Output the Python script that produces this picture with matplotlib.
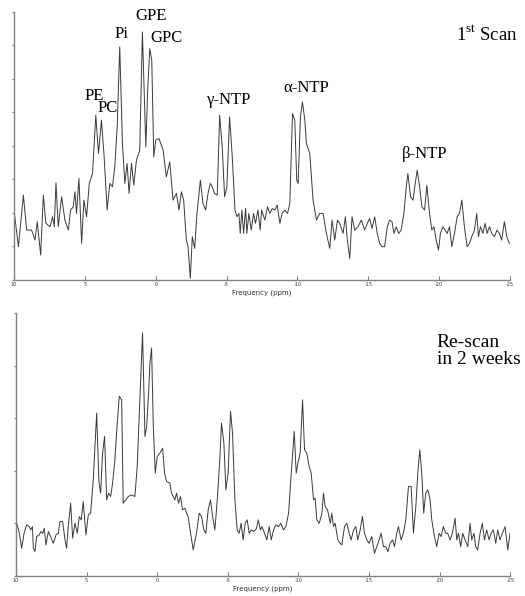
"""
31P MRS spectra: first scan vs re-scan two weeks later.
"""

import matplotlib

matplotlib.use("Agg")
import matplotlib.pyplot as plt
import numpy as np

# first scan: chemical shift (ppm) and intensity (a.u.)
SCAN1_PPM = [
    10.00, 9.69, 9.34, 9.11, 8.76, 8.52, 8.36, 8.12, 7.93, 7.75, 7.46, 7.28, 7.16, 7.04,
    6.88, 6.64, 6.41, 6.17, 6.01, 5.82, 5.70, 5.59, 5.42, 5.23, 5.07, 4.88, 4.69, 4.46,
    4.23, 4.04, 3.83, 3.64, 3.43, 3.24, 3.05, 2.89, 2.72, 2.54, 2.35, 2.18, 2.02, 1.88,
    1.71, 1.55, 1.36, 1.13, 0.94, 0.70, 0.56, 0.42, 0.28, 0.14, 0.00, -0.23, -0.52,
    -0.75, -0.99, -1.22, -1.46, -1.64, -1.81, -1.97, -2.16, -2.28, -2.44, -2.58, -2.75,
    -2.91, -3.15, -3.33, -3.52, -3.69, -3.85, -3.99, -4.15, -4.34, -4.51, -4.69, -4.86,
    -5.02, -5.21, -5.40, -5.59, -5.73, -5.87, -5.96, -6.08, -6.20, -6.34, -6.43, -6.57,
    -6.74, -6.90, -7.04, -7.21, -7.37,
    -7.47, -7.70, -7.89, -8.05, -8.22, -8.40, -8.57, -8.76, -8.92, -9.11, -9.30, -9.46,
    -9.65, -9.81, -9.95, -10.05, -10.21, -10.35, -10.52, -10.63, -10.87, -11.10, -11.34,
    -11.57, -11.81, -12.04, -12.28, -12.44, -12.63, -12.82, -12.98, -13.22, -13.38,
    -13.52, -13.69, -13.85, -14.04, -14.27, -14.51, -14.74, -14.93, -15.09, -15.26,
    -15.45, -15.63, -15.80, -15.96, -16.15, -16.34, -16.50, -16.67, -16.81, -16.97,
    -17.14, -17.32, -17.51, -17.68, -17.79, -17.98, -18.15, -18.31, -18.45, -18.62,
    -18.78, -18.97, -19.13, -19.32, -19.48, -19.63, -19.79, -19.95, -20.09, -20.26,
    -20.42, -20.56, -20.73, -20.89, -21.08, -21.27, -21.43, -21.60, -21.78, -21.97,
    -22.14, -22.30, -22.49, -22.65, -22.77, -22.91, -23.08, -23.24, -23.38, -23.55,
    -23.71, -23.90, -24.08, -24.25, -24.41, -24.60, -24.77, -24.95,
]
SCAN1_INT = [
    210, 100, 255, 150, 150, 120, 175, 75, 255, 170, 160, 190, 160, 292,
    160, 250, 180, 150, 210, 220, 265, 200, 305, 110, 240, 190, 290, 320,
    495, 380, 480, 370, 210, 290, 280, 340, 460, 700, 410, 290, 350, 260,
    350, 285, 360, 390, 745, 400, 580, 695, 660, 370, 420, 425, 390,
    310, 355, 240, 260, 210, 265, 240, 120, 100, 5, 130, 95,
    200, 300, 230, 210, 260, 290, 280, 260, 255, 495, 400, 250,
    280, 490, 370, 210, 190, 200, 140, 210, 140, 215, 140, 200,
    150, 200, 170, 210, 150,
    210, 180, 220, 200, 215, 210, 225, 170, 200, 210, 200, 230,
    500, 480, 300, 290, 490, 535, 480, 410, 380, 240, 180,
    200, 200, 140, 95, 180, 120, 180, 170, 140, 190,
    120, 65, 190, 150, 160, 180, 150, 170, 185, 155,
    190, 140, 110, 100, 100, 160, 180, 175, 140, 160,
    140, 150, 200, 280, 320, 250, 240, 290, 330, 280,
    220, 210, 285, 200, 150, 160, 120, 90, 140, 160,
    150, 140, 160, 100, 140, 190, 200, 240, 160, 100,
    110, 130, 150, 200, 130, 160, 140, 170, 140, 160,
    140, 130, 150, 140, 120, 175, 130, 110,
]

# re-scan after 2 weeks
SCAN2_PPM = [
    9.95, 9.76, 9.60, 9.43, 9.25, 9.06, 8.96, 8.84, 8.77, 8.66, 8.54, 8.35, 8.25, 8.11,
    8.00, 7.88, 7.71, 7.55, 7.36, 7.17, 7.00, 6.89, 6.70, 6.53, 6.42, 6.30, 6.13, 5.99,
    5.83, 5.66, 5.52, 5.38, 5.24, 5.05, 4.88, 4.72, 4.53, 4.29, 4.13, 4.01, 3.87, 3.73,
    3.58, 3.44, 3.30, 3.16, 3.00, 2.88, 2.69, 2.52, 2.41, 2.22, 2.05, 1.82, 1.58, 1.42,
    1.23, 1.04, 0.87, 0.75, 0.61, 0.52, 0.40, 0.28, 0.14, 0.00, -0.19, -0.38, -0.52,
    -0.66, -0.90, -1.01, -1.13, -1.25, -1.37, -1.51, -1.65, -1.79, -1.96, -2.08, -2.19,
    -2.36, -2.55, -2.78, -2.97, -3.14, -3.30, -3.44, -3.61, -3.77, -3.92, -4.08, -4.25,
    -4.43, -4.55, -4.72, -4.86, -5.02, -5.19, -5.33, -5.50, -5.66, -5.80, -5.94, -6.08,
    -6.23, -6.37, -6.51, -6.67, -6.84, -7.03, -7.15, -7.31,
    -7.41, -7.60, -7.76, -7.93, -8.07, -8.24, -8.40, -8.59, -8.75, -8.94, -9.11, -9.30,
    -9.49, -9.70, -9.84, -9.96, -10.12, -10.29, -10.43, -10.59, -10.76, -10.90, -11.07,
    -11.18, -11.30, -11.47, -11.66, -11.77, -11.89, -12.06, -12.25, -12.36, -12.48,
    -12.60, -12.79, -12.95, -13.07, -13.26, -13.42, -13.59, -13.73, -13.90, -14.06,
    -14.20, -14.37, -14.53, -14.67, -14.84, -15.00, -15.19, -15.38, -15.55, -15.71,
    -15.85, -16.02, -16.18, -16.33, -16.49, -16.66, -16.80, -16.96, -17.08, -17.27,
    -17.43, -17.60, -17.79, -17.98, -18.14, -18.31, -18.45, -18.59, -18.73, -18.87,
    -19.01, -19.16, -19.32, -19.44, -19.63, -19.79, -19.96, -20.10, -20.26, -20.43,
    -20.57, -20.74, -20.90, -21.09, -21.21, -21.33, -21.49, -21.63, -21.80, -21.99,
    -22.15, -22.27, -22.43, -22.55, -22.69, -22.86, -23.02, -23.17, -23.33, -23.50,
    -23.64, -23.80, -23.97, -24.11, -24.27, -24.44, -24.63, -24.82, -24.98,
]
SCAN2_INT = [
    158, 128, 83, 128, 153, 148, 138, 148, 83, 73, 118, 123, 133, 128,
    143, 93, 133, 118, 98, 123, 128, 163, 163, 108, 83, 148, 218, 113,
    158, 128, 178, 168, 223, 123, 183, 188, 288, 488, 283, 248, 368, 418,
    228, 248, 238, 278, 348, 428, 538, 528, 218, 228, 238, 243, 238, 328,
    528, 728, 418, 448, 548, 638, 683, 448, 308, 358, 368, 383, 308,
    283, 278, 248, 238, 228, 248, 218, 238, 198, 203, 188, 178,
    128, 78, 128, 188, 178, 138, 128, 198, 228, 178, 138, 228,
    348, 458, 398, 258, 308, 493, 428, 228, 138, 128, 158, 108,
    158, 168, 128, 138, 133, 143, 168, 138,
    148, 128, 108, 148, 108, 138, 153, 148, 158, 138, 148, 188,
    308, 433, 308, 338, 368, 528, 378, 368, 328, 308, 228,
    233, 168, 158, 188, 248, 208, 198, 158, 188, 148,
    158, 108, 98, 93, 148, 158, 128, 108, 138, 148,
    108, 138, 178, 128, 108, 98, 118, 68, 88, 108,
    128, 88, 88, 73, 98, 108, 88, 128, 148, 108,
    128, 168, 268, 268, 128, 208, 308, 378, 308, 188,
    248, 258, 228, 168, 118, 88, 128, 118, 148, 128,
    128, 108, 128, 173, 108, 128, 88, 128, 108, 88,
    158, 108, 128, 88, 78, 128, 158, 108, 138, 108,
    128, 138, 98, 138, 108, 128, 148, 78, 128,
]

X_TICKS = [10, 5, 0, -5, -10, -15, -20, -25]
X_TICK_LABELS = ["10", "5", "0", "-5", "-10", "-15", "-20", "-25"]

SCAN1_PEAKS = ["PE", "PC", "Pi", "GPE", "GPC", "γ-NTP", "α-NTP", "β-NTP"]
SCAN1_PEAK_POS = [
    (4.35, 553), (3.37, 517), (2.45, 739), (0.33, 793), (-0.73, 727),
    (-5.17, 541), (-10.61, 577), (-19.0, 378),
]

SERIF = "Liberation Serif"
plt.rcParams["mathtext.fontset"] = "custom"
plt.rcParams["mathtext.rm"] = SERIF


def style_axes(ax, ymax, n_yticks):
    ax.set_xlim(10, -25)
    ax.set_ylim(0, ymax)
    for side in ("top", "right"):
        ax.spines[side].set_visible(False)
    for side in ("left", "bottom"):
        ax.spines[side].set_color("#808080")
        ax.spines[side].set_linewidth(1.0)
    ax.set_xticks(X_TICKS)
    ax.set_xticklabels(X_TICK_LABELS)
    ax.set_yticks(np.linspace(0, ymax, n_yticks))
    ax.set_yticklabels([])
    ax.tick_params(axis="x", direction="in", length=3, width=0.8, color="#808080",
                   labelsize=3.5, pad=1.5, labelcolor="#333333")
    ax.tick_params(axis="y", direction="out", length=1.5, width=0.8, color="#808080")
    ax.set_xlabel("Frequency (ppm)", fontsize=5, labelpad=1.5, color="#333333")
    ax.patch.set_alpha(0)


fig = plt.figure(figsize=(5.25, 5.96), dpi=100)
ax1 = fig.add_axes([0.0267, 0.5302, 0.9448, 0.4497])
ax2 = fig.add_axes([0.0305, 0.0336, 0.9415, 0.4413])

ax1.plot(SCAN1_PPM, SCAN1_INT, color="#3a3a3a", lw=0.7)
style_axes(ax1, 805, 9)
for name, (px, py) in zip(SCAN1_PEAKS, SCAN1_PEAK_POS):
    ax1.text(px, py, name, fontsize=12, family=SERIF, ha="center", va="center")
ax1.text(-23.38, 736, r"1$^{\mathrm{st}}$ Scan", fontsize=13.5, family=SERIF,
         ha="center", va="center")

ax2.plot(SCAN2_PPM, SCAN2_INT, color="#3a3a3a", lw=0.7)
style_axes(ax2, 788, 6)
ax2.text(-19.8, 674, "Re-scan\nin 2 weeks", fontsize=14, family=SERIF,
         ha="left", va="center", linespacing=1.0, clip_on=False)

fig.savefig("out.png", dpi=100)
